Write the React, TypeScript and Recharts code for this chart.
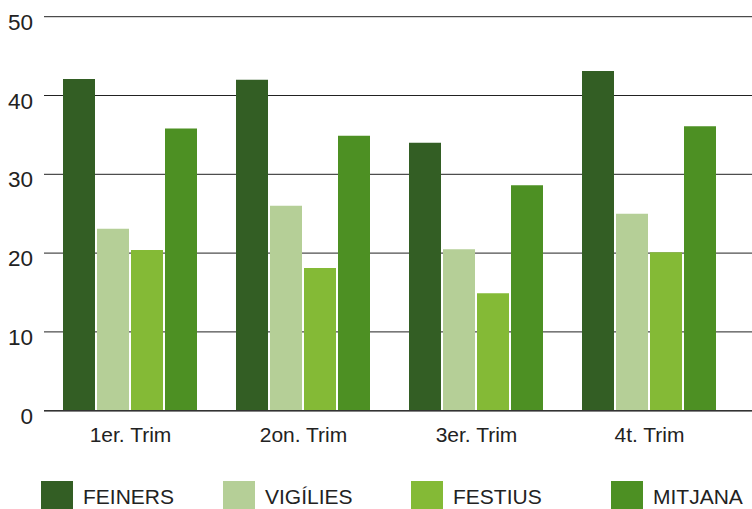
import React from 'react';
import { BarChart, Bar, XAxis, YAxis, CartesianGrid, Legend } from 'recharts';

const categories = ['1er. Trim', '2on. Trim', '3er. Trim', '4t. Trim'];
const feiners = [42.1, 42.0, 34.0, 43.1];
const vigilies = [23.1, 26.0, 20.5, 25.0];
const festius = [20.4, 18.1, 14.9, 20.1];
const mitjana = [35.8, 34.9, 28.6, 36.1];
const yTicks = [0, 10, 20, 30, 40, 50];

const seriesNames = ['FEINERS', 'VIGÍLIES', 'FESTIUS', 'MITJANA'];
const seriesKeys = ['feiners', 'vigilies', 'festius', 'mitjana'];
const seriesColors = ['#335e24', '#b5cf97', '#84ba36', '#4d9023'];

const data = categories.map((c, i) => ({
  name: c,
  feiners: feiners[i],
  vigilies: vigilies[i],
  festius: festius[i],
  mitjana: mitjana[i],
}));

const FONT = '"Liberation Sans", Arial, Helvetica, sans-serif';
const TEXT = '#222222';

const XTick = (props: any) => {
  const { x, y, payload } = props;
  return (
    <text x={x} y={y + 31.5} textAnchor="middle" fill={TEXT} fontFamily={FONT} fontSize={21}>
      {payload.value}
    </text>
  );
};

const YTick = (props: any) => {
  const { y, payload } = props;
  return (
    <text x={33} y={y + 13} textAnchor="end" fill={TEXT} fontFamily={FONT} fontSize={22.5}>
      {payload.value}
    </text>
  );
};

const legendLefts = [41, 223, 411, 611];

const LegendContent = () => (
  <div style={{ position: 'relative', width: 752, height: 32 }}>
    {seriesNames.map((n, i) => (
      <div
        key={n}
        style={{
          position: 'absolute',
          left: legendLefts[i],
          top: 0,
          height: 32,
          display: 'flex',
          alignItems: 'center',
        }}
      >
        <div style={{ width: 32, height: 32, background: seriesColors[i] }} />
        <span
          style={{
            marginLeft: 10,
            fontFamily: FONT,
            fontSize: 21,
            color: TEXT,
            lineHeight: '32px',
            whiteSpace: 'nowrap',
          }}
        >
          {n}
        </span>
      </div>
    ))}
  </div>
);

export default function App() {
  return (
    <div style={{ position: 'absolute', left: 0, top: 0, width: 752, height: 509, background: '#fff' }}>
      <BarChart
        width={752}
        height={509}
        data={data}
        margin={{ top: 16.7, right: 0, bottom: 26.3, left: 0 }}
        barCategoryGap={19}
        barGap={2}
      >
        <CartesianGrid vertical={false} stroke="#222" strokeWidth={1} />
        <XAxis
          dataKey="name"
          height={40}
          tickSize={0}
          tickMargin={0}
          tickLine={false}
          axisLine={{ stroke: '#333', strokeWidth: 1.6 }}
          padding={{ left: 0, right: 16 }}
          tick={<XTick />}
          interval={0}
        />
        <YAxis
          width={44}
          domain={[0, 50]}
          ticks={yTicks}
          axisLine={false}
          tickLine={false}
          tick={<YTick />}
          interval={0}
        />
        <Legend
          verticalAlign="bottom"
          content={<LegendContent />}
          wrapperStyle={{ left: 0, top: 481, bottom: 'auto', width: 752, height: 32 }}
        />
        {seriesKeys.map((k, i) => (
          <Bar key={k} dataKey={k} name={seriesNames[i]} fill={seriesColors[i]} isAnimationActive={false} />
        ))}
      </BarChart>
    </div>
  );
}
